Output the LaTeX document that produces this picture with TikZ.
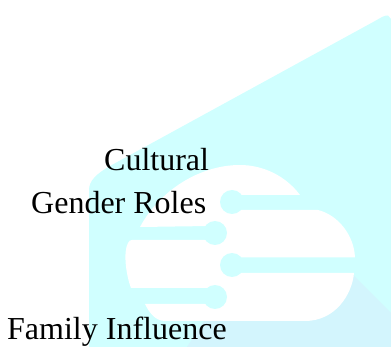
\documentclass[tikz,border=0pt]{standalone}
\usepackage{fontspec}
\setmainfont{Liberation Serif}
\definecolor{cyanbg}{HTML}{D0FFFF}
\definecolor{bluebg}{HTML}{D3F5FD}
\tikzset{lbl/.style={anchor=base west,inner sep=0pt,text=black,font=\fontsize{32}{32}\selectfont}}
\begin{document}
\begin{tikzpicture}[x=1pt,y=-1pt]
\useasboundingbox (0,0) rectangle (391,347);
\fill[cyanbg] (89,347) -- (89,190) .. controls (89,181) and (96,174) .. (110,166) -- (375,21) .. controls (381,17.5) and (385,15) .. (388,15.5) -- (391,19) -- (391,347) -- cycle;
\fill[bluebg] (391,313) -- (353,275) -- (310,321) -- (204,321) -- (187,347) -- (391,347) -- cycle;
\fill[white] (140,227) .. controls (160,190) and (200,165) .. (240,165) .. controls (262,165) and (285,175) .. (300,195) -- (240,195) -- (240,210) -- (318,210) .. controls (338,215) and (354,235) .. (355,257.5) -- (240,257.5) -- (240,273) -- (354,273) .. controls (352,295) and (335,321) .. (305,321) -- (165,321) .. controls (155,321) and (149,312) .. (145,304) -- (210,304) -- (210,288) -- (131,288) .. controls (126,275) and (123,252) .. (128,243) .. controls (129,241) and (130,240) .. (132,240) -- (210,240) -- (210,226) -- cycle;
\fill[cyanbg] (232,202) circle[radius=12];
\fill[cyanbg] (215,233) circle[radius=12];
\fill[cyanbg] (232,265) circle[radius=12];
\fill[cyanbg] (215,297) circle[radius=12];
\node[lbl] (c) at (104,170.5) {Cultural};
\node[lbl] (g) at (31,213.5) {Gender Roles};
\node[lbl] (f) at (7,339.5) {Family Influence};
\end{tikzpicture}
\end{document}
